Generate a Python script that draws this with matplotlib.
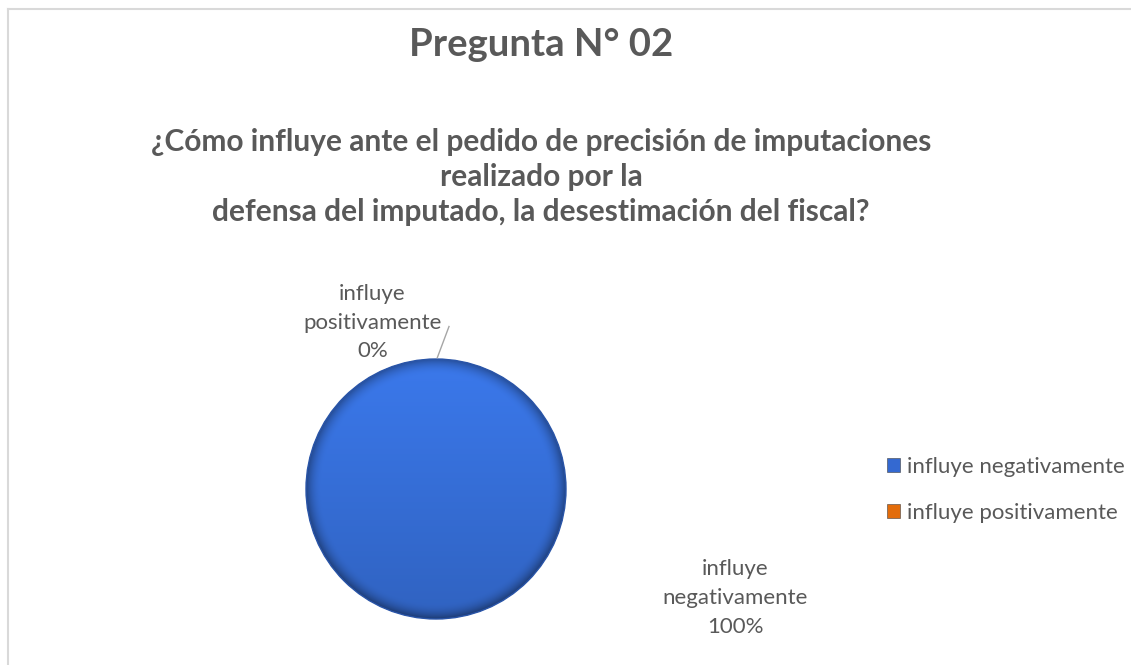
import numpy as np
import matplotlib
matplotlib.use("Agg")
import matplotlib.pyplot as plt
from matplotlib.lines import Line2D

# datos del grafico
categorias = ["influye negativamente", "influye positivamente"]
valores = [100, 0]
etiquetas = ["influye\nnegativamente\n100%", "influye\npositivamente\n0%"]
colores = ["#3469d1", "#e36c0a"]
titulo = "Pregunta N° 02"
subtitulo = ("¿Cómo influye ante el pedido de precisión de imputaciones\n"
             "realizado por la\n"
             "defensa del imputado, la desestimación del fiscal?")

gris = "#595959"
plt.rcParams['font.family'] = ['Lato', 'DejaVu Sans']

W, H = 1131, 665
fig = plt.figure(figsize=(W / 100, H / 100), dpi=100)
fig.patch.set_facecolor("white")

# borde del cuadro (arriba e izquierda)
fig.add_artist(Line2D([8 / W, 1], [1 - 9 / H, 1 - 9 / H], color="#d9d9d9", lw=1.5))
fig.add_artist(Line2D([8 / W, 8 / W], [0, 1 - 9 / H], color="#d9d9d9", lw=1.5))

fig.text(541 / W, 1 - 45 / H, titulo, ha="center", va="center",
         fontsize=27.5, fontweight="bold", color=gris)
fig.text(541 / W, 1 - 177 / H, subtitulo, ha="center", va="center",
         fontsize=21.5, fontweight="bold", color=gris, linespacing=1.32)

# ejes del pie: centro (436, 489) px, radio 130 px
cx, cy, r = 436, 489, 130
half = 200
ax = fig.add_axes([(cx - half) / W, (H - cy - half) / H, 2 * half / W, 2 * half / H])

wedges, _ = ax.pie(valores, colors=colores, startangle=90, counterclock=False,
                   radius=1, wedgeprops=dict(edgecolor="none"))

# degradado tipo bisel
yy, xx = np.mgrid[-1:1:300j, -1:1:300j]
rr = np.sqrt(xx ** 2 + yy ** 2)
base = np.array([0.21, 0.43, 0.84])
shade = 1.0 + 0.10 * yy - 0.35 * np.clip((rr - 0.88) / 0.12, 0, 1) ** 2
img = np.clip(base[None, None, :] * shade[..., None], 0, 1)
im = ax.imshow(img, extent=(-1, 1, -1, 1), origin="lower", zorder=2)
im.set_clip_path(wedges[0])
ax.add_patch(plt.Circle((0, 0), 1, fill=False, ec="#2a55a8", lw=1.0, zorder=3))
ax.set_xlim(-half / r, half / r)
ax.set_ylim(-half / r, half / r)
ax.set_aspect("equal")
ax.axis("off")

# etiquetas de datos
ax.plot([0.01, 0.10], [1.01, 1.25], color="#a6a6a6", lw=1, zorder=4, clip_on=False)
ax.text(-0.49, 1.28, etiquetas[1], ha="center", va="center", fontsize=16,
        color=gris, linespacing=1.55, zorder=4)
ax.text(2.3, -0.84, etiquetas[0], ha="center", va="center", fontsize=16,
        color=gris, linespacing=1.55, zorder=4)

leg = fig.legend(wedges, categorias, loc="center left",
                 bbox_to_anchor=(876 / W, 1 - 490 / H), frameon=False,
                 fontsize=16, handlelength=0.6, handleheight=0.6,
                 handletextpad=0.3, labelspacing=1.19, borderpad=0)
for t in leg.get_texts():
    t.set_color(gris)
for h in leg.legend_handles:
    h.set_edgecolor("#404040")
    h.set_linewidth(0.4)

fig.savefig("out.png", dpi=100, facecolor="white")
